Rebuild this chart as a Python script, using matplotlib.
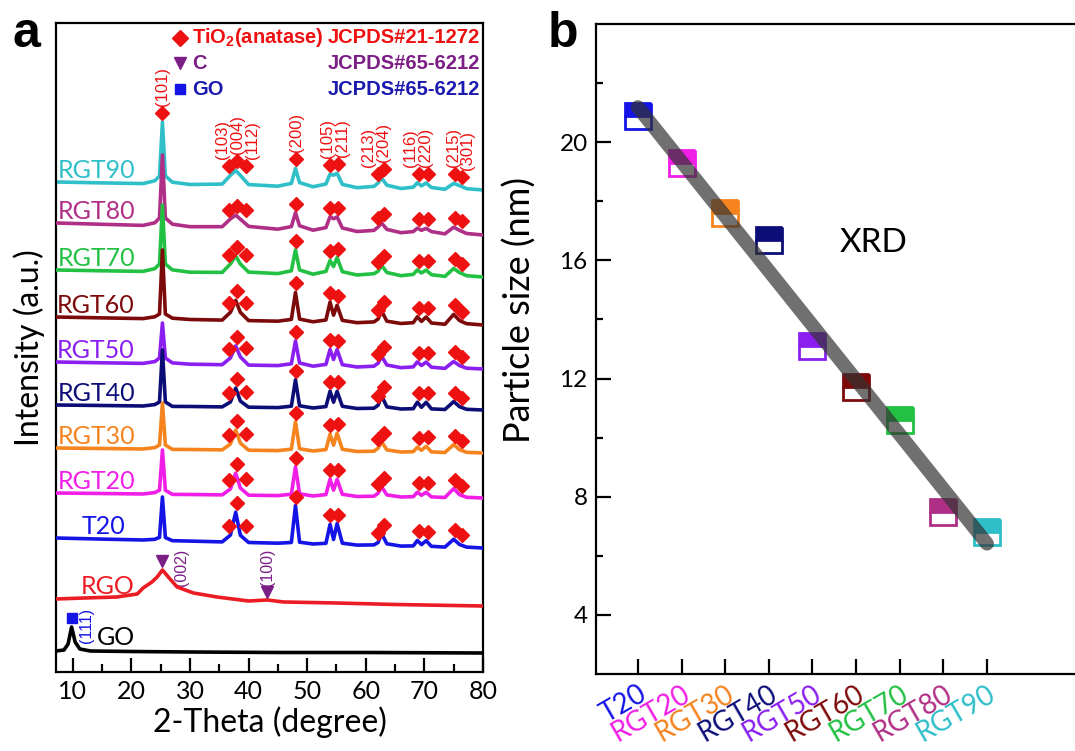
import numpy as np
import matplotlib
matplotlib.use("Agg")
import matplotlib.pyplot as plt
from matplotlib.ticker import MultipleLocator
from matplotlib.transforms import ScaledTranslation

plt.rcParams['font.family'] = ['Lato', 'DejaVu Sans']
plt.rcParams['mathtext.fontset'] = 'custom'
plt.rcParams['mathtext.rm'] = 'Liberation Sans:bold'
plt.rcParams['mathtext.bf'] = 'Liberation Sans:bold'

# ---------------- panel a : XRD patterns ----------------
two_theta = [7.1, 15, 22, 24.0, 24.8, 25.3, 25.8, 27.0, 30, 35.5,
             36.9, 37.8, 38.6, 40.0, 45, 47.3, 48.0, 48.7, 51, 53.2,
             53.9, 54.5, 55.1, 56.0, 58.5, 61.4, 62.1, 62.7, 63.6, 66,
             68.1, 68.8, 69.5, 70.3, 71.2, 73.5, 75.0, 76.0, 77.2, 80]

samples = ['RGT90', 'RGT80', 'RGT70', 'RGT60', 'RGT50', 'RGT40', 'RGT30', 'RGT20', 'T20']
offsets = [482, 437, 395, 347, 303, 262, 219, 174, 124]

xrd = {
    'RGT90': [8, 7.1, 6.4, 9.2, 14, 68, 14, 7.8, 5.5, 5.9, 14.7, 19.6, 14.6, 5.4, 3.8, 6.6, 21.5, 7.4, 3.2, 6,
              15.9, 14.8, 16.7, 5.6, 2.3, 3.6, 7, 11.9, 4.8, 1.5, 2.8, 7.2, 4.1, 7, 2.5, 0.7, 6.6, 4.4, 1.3, 0],
    'RGT80': [12, 10.7, 9.6, 12.2, 17, 80, 17, 10.8, 8.3, 8.3, 16.1, 20, 15.8, 8.6, 5.8, 8.4, 22.3, 9.2, 4.8, 7.4,
              18.3, 16.2, 18.1, 7, 3.5, 4.6, 8, 11.9, 5.6, 2.3, 3.4, 6.8, 4.7, 6.6, 3.4, 1.1, 7.8, 4.6, 1.5, 0],
    'RGT70': [7, 6.2, 5.6, 8.4, 13, 72, 13, 7.1, 4.8, 4.6, 13.1, 21.1, 13, 4.9, 3.4, 6.2, 27.1, 7, 2.8, 5.6,
              16.5, 10.5, 19.4, 5.3, 2, 3.3, 5.8, 11.7, 4.5, 1.3, 2.6, 7.1, 4, 6.9, 2.3, 0.6, 8.5, 4.4, 1.3, 0],
    'RGT60': [8, 7.1, 6.4, 8.2, 11, 75, 11, 6.8, 5.5, 4.9, 12.7, 24.6, 12.6, 4.4, 3.8, 5.6, 32.5, 5.9, 3.2, 5,
              22.9, 9.8, 19.7, 4.6, 2.3, 3.1, 6, 13.9, 3.8, 1.5, 2.3, 8.2, 3.6, 8, 2, 0.7, 10.6, 4.4, 1.3, 0],
    'RGT50': [7, 6.2, 5.6, 7.4, 11, 46, 11, 6.1, 4.8, 4.3, 11.1, 23.1, 12, 3.9, 3.4, 5.2, 28.1, 6, 2.8, 4.6,
              19.5, 9.5, 19.4, 4.3, 2, 2.8, 5.8, 12.7, 4, 1.3, 2.1, 7.1, 3.5, 6.9, 1.8, 0.6, 7.5, 3.4, 0.8, 0],
    'RGT40': [5, 4.5, 4, 5.4, 8, 60, 8, 3.6, 3.5, 3.1, 8, 21.9, 8.9, 2.8, 2.4, 3.8, 30.2, 4.2, 2, 3.4,
              18.8, 7.8, 18.7, 3.7, 1.5, 1.8, 4.8, 14.2, 3.1, 1, 1.3, 7.8, 2.7, 7.7, 1.1, 0.5, 8.4, 3.3, 0.7, 0],
    'RGT30': [5, 4.5, 4, 5.4, 8, 50, 8, 3.6, 3.5, 3.1, 9, 22.9, 9.9, 2.8, 2.4, 3.8, 31.2, 4.2, 2, 3.4,
              18.8, 7.8, 19.7, 3.7, 1.5, 1.8, 4.8, 11.2, 3.1, 1, 1.3, 5.8, 2.7, 6.7, 1.1, 0.5, 8.4, 3.3, 0.7, 0],
    'RGT20': [5, 4.5, 4, 5.4, 7.8, 48, 7.7, 3.6, 3.5, 3.1, 9, 24.9, 9.9, 2.8, 2.4, 3.8, 31.2, 4.2, 2, 3.4,
              18.8, 7.8, 18.7, 3.7, 1.5, 1.8, 4.8, 11.2, 3.1, 1, 1.3, 5.8, 2.7, 5.7, 1.1, 0.5, 9.4, 3.3, 0.7, 0],
    'T20':   [10, 8.9, 8, 8.7, 10.6, 51, 10.4, 7.3, 6.9, 6.1, 12.9, 35.8, 12.7, 5.5, 4.8, 5.5, 42.4, 5.8, 4, 4.7,
              23.6, 8.5, 24.4, 4.8, 2.9, 3.1, 5.5, 14.4, 4.2, 1.9, 2.1, 7.5, 3.4, 7.3, 1.7, 0.9, 8.7, 3.5, 0.9, 0],
}

rgo_theta = [7.1, 12, 17.5, 21, 22, 23.5, 24.4, 25.3, 26.3, 27.8, 30.6, 34.6, 40, 43.2, 46, 55, 65, 80]
rgo_int = [7, 8, 9, 12, 18, 24, 29, 36, 29, 19, 13, 9, 5, 6, 4, 3, 1.5, 0]
rgo_offset = 66

go_theta = [7.1, 8.5, 9.2, 9.8, 10.4, 11.2, 13, 20, 30, 45, 60, 80]
go_int = [2, 3, 9, 26, 11, 4, 2, 1.5, 1, 0.5, 0.5, 0]
go_offset = 19

colors = {'RGT90': '#2fbfc9', 'RGT80': '#b02f86', 'RGT70': '#22c043', 'RGT60': '#7d0a0a',
          'RGT50': '#8a1ff0', 'RGT40': '#0d0d78', 'RGT30': '#f5841f', 'RGT20': '#f01ee6',
          'T20': '#1414e6', 'RGO': '#ec1c24', 'GO': '#000000'}
label_x = {'RGT90': 20.6, 'RGT80': 20.6, 'RGT70': 20.6, 'RGT60': 20.6, 'RGT50': 20.6,
           'RGT40': 20.6, 'RGT30': 20.6, 'RGT20': 20.6, 'T20': 19.0, 'RGO': 20.6, 'GO': 20.6}

hkl_pos = [25.3, 36.9, 37.8, 38.6, 48.0, 53.9, 55.1, 62.1, 62.7, 68.8, 70.3, 75.0, 76.0]
hkl_names = ['(101)', '(103)', '(004)', '(112)', '(200)', '(105)', '(211)',
             '(213)', '(204)', '(116)', '(220)', '(215)', '(301)']
hkl_mark_x = [25.3, 36.6, 38.0, 39.5, 48.1, 53.9, 55.3, 62.0, 63.1, 69.0, 70.6, 75.2, 76.5]
hkl_text_x = [25.3, 35.5, 38.1, 40.7, 48.2, 53.5, 56.0, 60.5, 63.1, 67.7, 70.2, 74.9, 77.4]

# ---------------- panel b : particle size ----------------
b_samples = ['T20', 'RGT20', 'RGT30', 'RGT40', 'RGT50', 'RGT60', 'RGT70', 'RGT80', 'RGT90']
sizes = [20.9, 19.3, 17.6, 16.7, 13.1, 11.7, 10.6, 7.5, 6.8]

red = '#ee1111'
purple = '#7b1f86'
blue_txt = '#1a1ab0'

fig = plt.figure(figsize=(10.75, 7.51), dpi=100)
ax = fig.add_axes([0.0521, 0.1052, 0.3972, 0.8642])

z = 2
for name, off in zip(samples, offsets):
    y = off + np.array(xrd[name])
    ax.plot(two_theta, y, color=colors[name], lw=2.6, zorder=z)
    z += 1
    ax.text(label_x[name], y[0] + 11, name, color=colors[name], fontsize=18,
            ha='right', va='center')
    marks = off + np.interp(hkl_pos, two_theta, xrd[name]) + 9
    start = 0 if name == 'RGT90' else 1
    ax.plot(hkl_mark_x[start:], marks[start:], ls='none', marker='D', ms=7.3,
            color=red, zorder=30)
    if name == 'RGT90':
        for tx, my, lab in zip(hkl_text_x, marks, hkl_names):
            ax.text(tx, my + 7, lab, rotation=90, color=red, fontsize=12,
                    family='Liberation Sans', ha='center', va='bottom')

y_rgo = rgo_offset + np.array(rgo_int)
ax.plot(rgo_theta, y_rgo, color=colors['RGO'], lw=2.6, zorder=z)
ax.text(label_x['RGO'], y_rgo[0] + 12, 'RGO', color=colors['RGO'], fontsize=18, ha='right', va='center')
y_go = go_offset + np.array(go_int)
ax.plot(go_theta, y_go, color=colors['GO'], lw=2.6, zorder=z + 1)
ax.text(label_x['GO'], y_go[0] + 13, 'GO', color=colors['GO'], fontsize=18, ha='right', va='center')

# graphitic carbon / GO reflections
c_pos = [25.3, 43.2]
c_y = np.interp(c_pos, rgo_theta, y_rgo) + [9, 8]
ax.plot(c_pos, c_y, ls='none', marker='v', ms=8.5, color=purple, zorder=30)
ax.text(28.5, c_y[0] - 6, '(002)', rotation=90, color=purple, fontsize=11.5,
        family='Liberation Sans', ha='center', va='center')
ax.text(43.2, c_y[1] + 6, '(100)', rotation=90, color=purple, fontsize=11.5,
        family='Liberation Sans', ha='center', va='bottom')
go_y = np.interp(9.8, go_theta, y_go) + 9
ax.plot([9.8], [go_y], ls='none', marker='s', ms=6.5, color='#1414e6', zorder=30)
ax.text(12.3, go_y - 7, '(111)', rotation=90, color='#1414e6', fontsize=11.5,
        family='Liberation Sans', ha='center', va='center')

# legend block
lk = dict(transform=ax.transAxes, fontsize=14.5, weight='bold', family='Liberation Sans', va='center')
ax.plot([0.290], [0.977], transform=ax.transAxes, marker='D', ms=8, color=red, clip_on=False)
ax.text(0.3185, 0.977, r'TiO$_\mathbf{2}$(anatase)', color=red, ha='left', **lk)
ax.text(0.993, 0.977, 'JCPDS#21-1272', color=red, ha='right', **lk)
ax.plot([0.290], [0.938], transform=ax.transAxes, marker='v', ms=9, color=purple, clip_on=False)
ax.text(0.3185, 0.938, 'C', color=purple, ha='left', **lk)
ax.text(0.993, 0.938, 'JCPDS#65-6212', color=purple, ha='right', **lk)
ax.plot([0.290], [0.898], transform=ax.transAxes, marker='s', ms=6.5, color='#1414e6', clip_on=False)
ax.text(0.3185, 0.898, 'GO', color=blue_txt, ha='left', **lk)
ax.text(0.993, 0.898, 'JCPDS#65-6212', color=blue_txt, ha='right', **lk)

ax.set_xlim(7.14, 80)
ax.set_ylim(0, 649)
ax.set_yticks([])
ax.xaxis.set_major_locator(MultipleLocator(10))
ax.xaxis.set_minor_locator(MultipleLocator(5))
ax.tick_params(axis='x', which='major', direction='in', length=10, width=1.6, labelsize=18, pad=6)
ax.tick_params(axis='x', which='minor', direction='in', length=5.5, width=1.6)
ax.set_xlabel('2-Theta (degree)', fontsize=23, labelpad=2)
ax.set_ylabel('Intensity (a.u.)', fontsize=23, labelpad=8)
for s in ax.spines.values():
    s.set_linewidth(1.6)

# ---------------- panel b ----------------
bx = fig.add_axes([0.5544, 0.1025, 0.4502, 0.8655])
idx = np.arange(1, len(b_samples) + 1)
for i, name, v in zip(idx, b_samples, sizes):
    bx.plot([i], [v], ls='none', marker='s', ms=19, mew=2, fillstyle='top',
            color=colors[name], markerfacecoloralt='white', zorder=3)
fit = np.polyfit(idx, sizes, 1)
bx.plot([idx[0], idx[-1]], np.polyval(fit, [idx[0], idx[-1]]), color='#333333',
        alpha=0.7, lw=10, solid_capstyle='round', zorder=4)
bx.text(5.62, 16.6, 'XRD', fontsize=24, ha='left', va='center')

bx.set_xlim(0.04, 11.13)
bx.set_ylim(2, 24)
bx.set_yticks([4, 8, 12, 16, 20])
bx.set_yticks([6, 10, 14, 18, 22], minor=True)
bx.set_xticks(idx)
bx.set_xticklabels(b_samples, rotation=30, ha='right', rotation_mode='anchor')
shift = ScaledTranslation(14 / 100, 0, fig.dpi_scale_trans)
for t, name in zip(bx.get_xticklabels(), b_samples):
    t.set_color(colors[name])
    t.set_transform(t.get_transform() + shift)
bx.tick_params(axis='x', direction='in', length=11, width=1.6, labelsize=20, pad=5)
bx.tick_params(axis='y', which='major', direction='in', length=11, width=1.6, labelsize=17.5, pad=6)
bx.tick_params(axis='y', which='minor', direction='in', length=5, width=1.6)
bx.set_ylabel('Particle size (nm)', fontsize=26)
bx.yaxis.set_label_coords(-0.122, 0.56)
for s in bx.spines.values():
    s.set_linewidth(1.6)

fig.text(12 / 1075, 1 - 47 / 751, 'a', fontsize=36, weight='bold', family='Liberation Sans', va='baseline')
fig.text(548 / 1075, 1 - 47 / 751, 'b', fontsize=36, weight='bold', family='Liberation Sans', va='baseline')

fig.savefig('out.png', dpi=100)
